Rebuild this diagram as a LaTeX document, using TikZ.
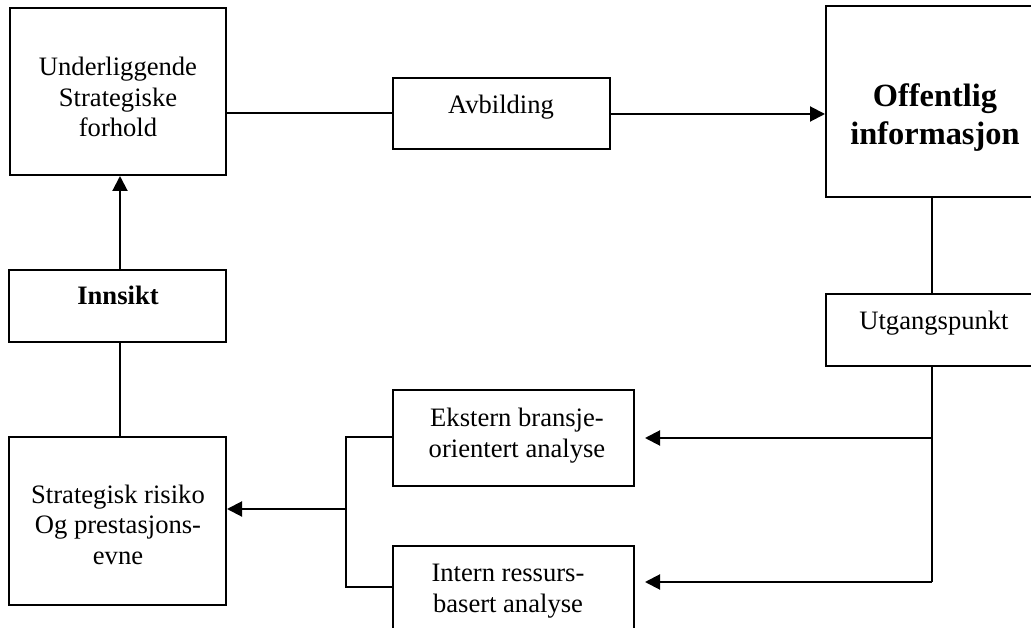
\documentclass[tikz,border=0pt]{standalone}
\usepackage{fontspec}
\setmainfont{Liberation Serif}
\usetikzlibrary{arrows.meta}
\tikzset{
  box/.style={draw=black, line width=2pt, rectangle, inner sep=0pt, fill=white},
  conn/.style={line width=2pt, draw=black},
  arr/.style={conn, -{Triangle[length=15pt,width=15pt]}},
  lbl/.style={inner sep=0pt, align=center, anchor=base, font=\fontsize{26.6}{30.5}\selectfont},
  blbl/.style={inner sep=0pt, align=center, anchor=base, font=\fontsize{32.4}{38}\selectfont\bfseries},
}
\begin{document}
\begin{tikzpicture}[x=1pt,y=-1pt]
\useasboundingbox[fill=white] (0,0) rectangle (1031,628);
\begin{scope}
\clip (0,0) rectangle (1031,628);
% boxes
\node[box, minimum width=216pt, minimum height=167pt] (A) at (118,91.5) {};
\node[box, minimum width=217pt, minimum height=71pt] (B) at (501.5,113.5) {};
\node[box, minimum width=220pt, minimum height=191pt] (C) at (936,101.5) {};
\node[box, minimum width=217pt, minimum height=72pt] (D) at (117.5,306) {};
\node[box, minimum width=220pt, minimum height=72pt] (E) at (936,330) {};
\node[box, minimum width=241pt, minimum height=96pt] (F) at (513.5,438) {};
\node[box, minimum width=217pt, minimum height=168pt] (G) at (117.5,521) {};
\node[box, minimum width=241pt, minimum height=84pt] (H) at (513.5,588) {};
% texts
\node[lbl] (tA) at (118,137) {Underliggende\\Strategiske\\forhold};
\node[lbl] (tB) at (501,114) {Avbilding};
\node[blbl] (tC) at (935,145) {Offentlig\\informasjon};
\node[lbl, font=\fontsize{26.6}{30.5}\selectfont\bfseries] (tD) at (118,305) {Innsikt};
\node[lbl] (tE) at (934,330) {Utgangspunkt};
\node[lbl] (tF) at (517,457) {Ekstern bransje-\\orientert analyse};
\node[lbl] (tG) at (118,564) {Strategisk risiko\\Og prestasjons-\\evne};
\node[lbl] (tH) at (508,612) {Intern ressurs-\\basert analyse};
% connector points
\coordinate (bx) at (346,509);
\coordinate (rv) at (932,438);
\coordinate (rb) at (932,582);
% connectors
\draw[conn] (A.east |- 0,113) -- (B.west |- 0,113);
\draw[arr] (B.east |- 0,114) -- (C.west |- 0,114);
\draw[conn] (C.south -| rv) -- (E.north -| rv);
\draw[conn] (E.south -| rv) -- (rb);
\draw[arr, shorten >=10pt] (rb) -- (H.east |- rb);
\draw[arr, shorten >=10pt] (rv) -- (F.east |- rv);
\draw[conn] (F.west |- 0,437) -- (346,437) -- (346,587) -- (H.west |- 0,587);
\draw[arr] (bx) -- (G.east |- bx);
\draw[conn] (D.south -| 120,0) -- (G.north -| 120,0);
\draw[arr] (D.north -| 120,0) -- (A.south -| 120,0);
\end{scope}
\end{tikzpicture}
\end{document}
